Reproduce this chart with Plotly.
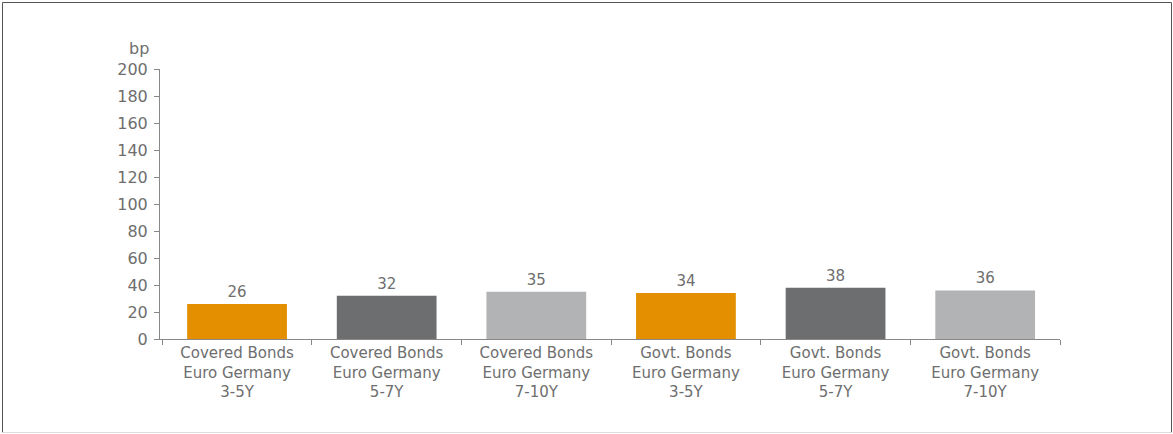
import plotly.graph_objects as go

categories = [
    "Covered Bonds<br>Euro Germany<br>3-5Y",
    "Covered Bonds<br>Euro Germany<br>5-7Y",
    "Covered Bonds<br>Euro Germany<br>7-10Y",
    "Govt. Bonds<br>Euro Germany<br>3-5Y",
    "Govt. Bonds<br>Euro Germany<br>5-7Y",
    "Govt. Bonds<br>Euro Germany<br>7-10Y",
]
values = [26, 32, 35, 34, 38, 36]
bar_colors = ["#E38F00", "#6D6E70", "#B2B3B5", "#E38F00", "#6D6E70", "#B2B3B5"]
y_ticks = [0, 20, 40, 60, 80, 100, 120, 140, 160, 180, 200]

W, H = 1173, 434
ML, MR, MT, MB = 160, 113, 69, 95
FONT = "DejaVu Sans"
FS = 15
FSY = 16
TXT = "#6E6E6E"
AX = "#888888"

fig = go.Figure(
    go.Bar(
        x=categories,
        y=values,
        marker=dict(color=bar_colors, line=dict(width=0)),
        text=[str(v) for v in values],
        textposition="outside",
        textfont=dict(family=FONT, size=FS, color=TXT),
        cliponaxis=False,
        hoverinfo="skip",
    )
)

pw = W - ML - MR
ph = H - MT - MB


def px(x):
    return (x - ML) / pw


def py(y):
    return (H - MB - y) / ph


fig.update_layout(
    width=W,
    height=H,
    margin=dict(l=ML, r=MR, t=MT, b=MB, pad=0),
    paper_bgcolor="white",
    plot_bgcolor="white",
    bargap=1 / 3,
    showlegend=False,
    font=dict(family=FONT, size=FS, color=TXT),
    xaxis=dict(
        type="category",
        range=[-0.515, 5.5],
        tickson="boundaries",
        ticks="outside",
        ticklen=5,
        tickcolor=AX,
        showline=True,
        linecolor=AX,
        linewidth=1,
        showgrid=False,
        tickfont=dict(family=FONT, size=FS, color=TXT),
        fixedrange=True,
    ),
    yaxis=dict(
        range=[0, 200],
        tickvals=y_ticks,
        ticks="outside",
        ticklen=5,
        tickcolor=AX,
        showline=True,
        linecolor=AX,
        linewidth=1,
        showgrid=False,
        zeroline=False,
        ticklabelstandoff=3,
        tickfont=dict(family=FONT, size=FSY, color=TXT),
        fixedrange=True,
    ),
    annotations=[
        dict(
            text="bp",
            xref="paper",
            yref="paper",
            x=px(151),
            y=py(60),
            xanchor="right",
            yanchor="bottom",
            showarrow=False,
            font=dict(family=FONT, size=FSY, color=TXT),
        )
    ],
    shapes=[
        dict(type="line", xref="paper", yref="paper",
             x0=px(2.5), x1=px(2.5), y0=py(2.5), y1=py(432.5),
             line=dict(color="#555555", width=1)),
        dict(type="line", xref="paper", yref="paper",
             x0=px(2.5), x1=px(1171.5), y0=py(2.5), y1=py(2.5),
             line=dict(color="#555555", width=1)),
        dict(type="line", xref="paper", yref="paper",
             x0=px(1171.5), x1=px(1171.5), y0=py(2.5), y1=py(432.5),
             line=dict(color="#555555", width=1)),
        dict(type="line", xref="paper", yref="paper",
             x0=px(2.5), x1=px(1171.5), y0=py(432.5), y1=py(432.5),
             line=dict(color="#DDDDDD", width=1)),
    ],
)

fig.write_html("out.html")
